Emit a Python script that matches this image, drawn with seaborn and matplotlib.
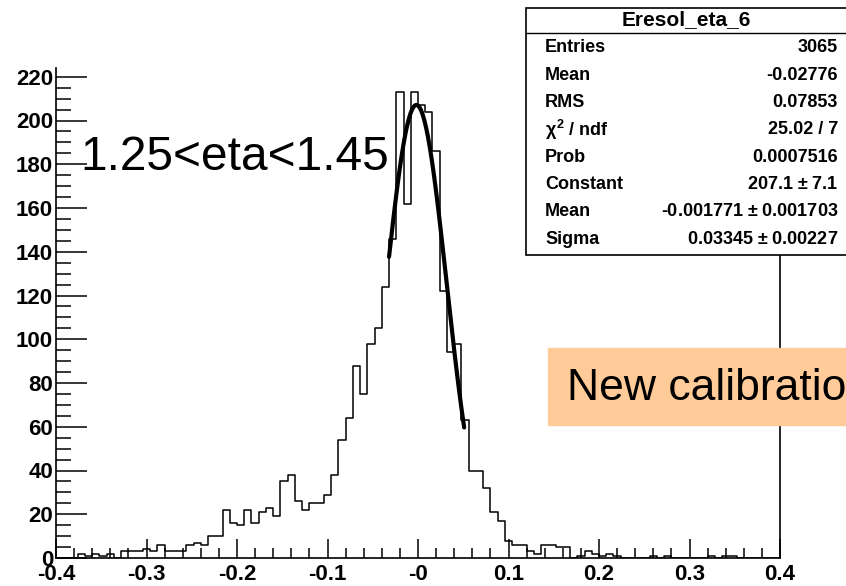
import numpy as np
import pandas as pd
import matplotlib
matplotlib.use("Agg")
import matplotlib.pyplot as plt
from matplotlib.patches import Rectangle
from matplotlib.ticker import MultipleLocator
import seaborn as sns

# ── Data: 100 bins of width 0.008 between -0.4 and 0.4 ────────
x_min, x_max, n_bins = -0.4, 0.4, 100
counts = [
    0, 0, 0, 2, 1, 2, 1, 2, 0, 3,
    3, 3, 4, 3, 6, 3, 3, 3, 6, 7,
    6, 10, 10, 22, 16, 15, 22, 16, 21, 23,
    19, 35, 38, 26, 22, 25, 25, 29, 38, 54,
    64, 88, 75, 98, 105, 124, 146, 213, 162, 213,
    207, 204, 186, 122, 94, 98, 63, 40, 40, 32,
    21, 17, 8, 6, 6, 3, 2, 6, 6, 5,
    5, 0, 1, 3, 2, 1, 2, 1, 0, 0,
    0, 0, 1, 0, 1, 0, 0, 0, 0, 0,
    1, 0, 1, 1, 0, 0, 0, 0, 0, 0,
]
fit_const, fit_mean, fit_sigma = 207.1, -0.001771, 0.03345
fit_lo, fit_hi = -0.032, 0.051

stats_title = "Eresol_eta_6"
stats_labels = ["Entries", "Mean", "RMS", r"$\chi^2$ / ndf", "Prob",
                "Constant", "Mean", "Sigma"]
stats_values = ["3065", "-0.02776", "0.07853", "25.02 / 7", "0.0007516",
                "207.1 $\\pm$ 7.1", "-0.001771 $\\pm$ 0.001703",
                "0.03345 $\\pm$ 0.00227"]

edges = np.linspace(x_min, x_max, n_bins + 1)
centers = 0.5 * (edges[:-1] + edges[1:])
hist_df = pd.DataFrame({"x": centers, "w": counts})

sns.set_style("white")
plt.rcParams["font.family"] = ["Liberation Sans", "DejaVu Sans"]
plt.rcParams["text.color"] = "black"
plt.rcParams["xtick.color"] = "black"
plt.rcParams["ytick.color"] = "black"
plt.rcParams["mathtext.fontset"] = "custom"
plt.rcParams["mathtext.rm"] = "Liberation Sans:bold"
plt.rcParams["mathtext.it"] = "Liberation Sans:bold"

fig = plt.figure(figsize=(8.46, 5.86), dpi=100)
ax = fig.add_axes([56 / 846, 1 - 558 / 586, (780 - 56) / 846, (558 - 68) / 586])

sns.histplot(data=hist_df, x="x", weights="w", bins=list(edges), element="step",
             fill=False, color="black", linewidth=1.1, ax=ax)

xf = np.linspace(fit_lo, fit_hi, 200)
yf = fit_const * np.exp(-0.5 * ((xf - fit_mean) / fit_sigma) ** 2)
sns.lineplot(x=xf, y=yf, color="black", linewidth=3, ax=ax)

ax.set_xlim(x_min, x_max)
ax.set_ylim(0, 224)
ax.set_xlabel("")
ax.set_ylabel("")
ax.spines["top"].set_visible(False)
for s in ["left", "bottom", "right"]:
    ax.spines[s].set_linewidth(1.2)
    ax.spines[s].set_color("black")
ax.xaxis.set_minor_locator(MultipleLocator(0.02))
ax.yaxis.set_minor_locator(MultipleLocator(5))
ax.tick_params(which="both", direction="in", top=False, right=False,
               bottom=True, left=True, width=1.1)
ax.tick_params(axis="y", which="major", length=22, pad=2)
ax.tick_params(axis="y", which="minor", length=11)
ax.tick_params(axis="x", which="major", length=14, pad=4)
ax.tick_params(axis="x", which="minor", length=7)
ax.set_xticks(np.round(np.arange(-0.4, 0.41, 0.1), 1))
ax.set_xticklabels(["-0.4", "-0.3", "-0.2", "-0.1", "-0", "0.1", "0.2", "0.3", "0.4"],
                   fontsize=16, fontweight="bold")
ax.set_yticks(range(0, 221, 20))
ax.set_yticklabels([str(v) for v in range(0, 221, 20)], fontsize=16, fontweight="bold")

ax.text(-0.373, 183, "1.25<eta<1.45", fontsize=34.5, va="center", ha="left")

# orange label box, running off the right edge
fig.patches.append(Rectangle((548 / 846, 1 - 425 / 586), 300 / 846, 77 / 586,
                             transform=fig.transFigure, color="#ffcc99",
                             zorder=3))
fig.text(567 / 846, 1 - 388 / 586, "New calibration", fontsize=32,
         va="center", ha="left", zorder=4)

# stats box
fig.patches.append(Rectangle((526 / 846, 1 - 255 / 586), 330 / 846, 247 / 586,
                             transform=fig.transFigure, facecolor="white",
                             edgecolor="black", linewidth=1.2, zorder=5))
fig.lines.append(plt.Line2D([526 / 846, 1], [1 - 33 / 586] * 2,
                            transform=fig.transFigure, color="black",
                            linewidth=1, zorder=6))
fig.text(686 / 846, 1 - 20 / 586, stats_title, fontsize=15,
         fontweight="bold", ha="center", va="center", zorder=6)
for i, (lab, val) in enumerate(zip(stats_labels, stats_values)):
    yy = 1 - (48 + 27.3 * i) / 586
    fig.text(545 / 846, yy, lab, fontsize=13, fontweight="bold",
             ha="left", va="center", zorder=6)
    fig.text(838 / 846, yy, val, fontsize=13, fontweight="bold",
             ha="right", va="center", zorder=6)

plt.savefig("out.png", dpi=100)
